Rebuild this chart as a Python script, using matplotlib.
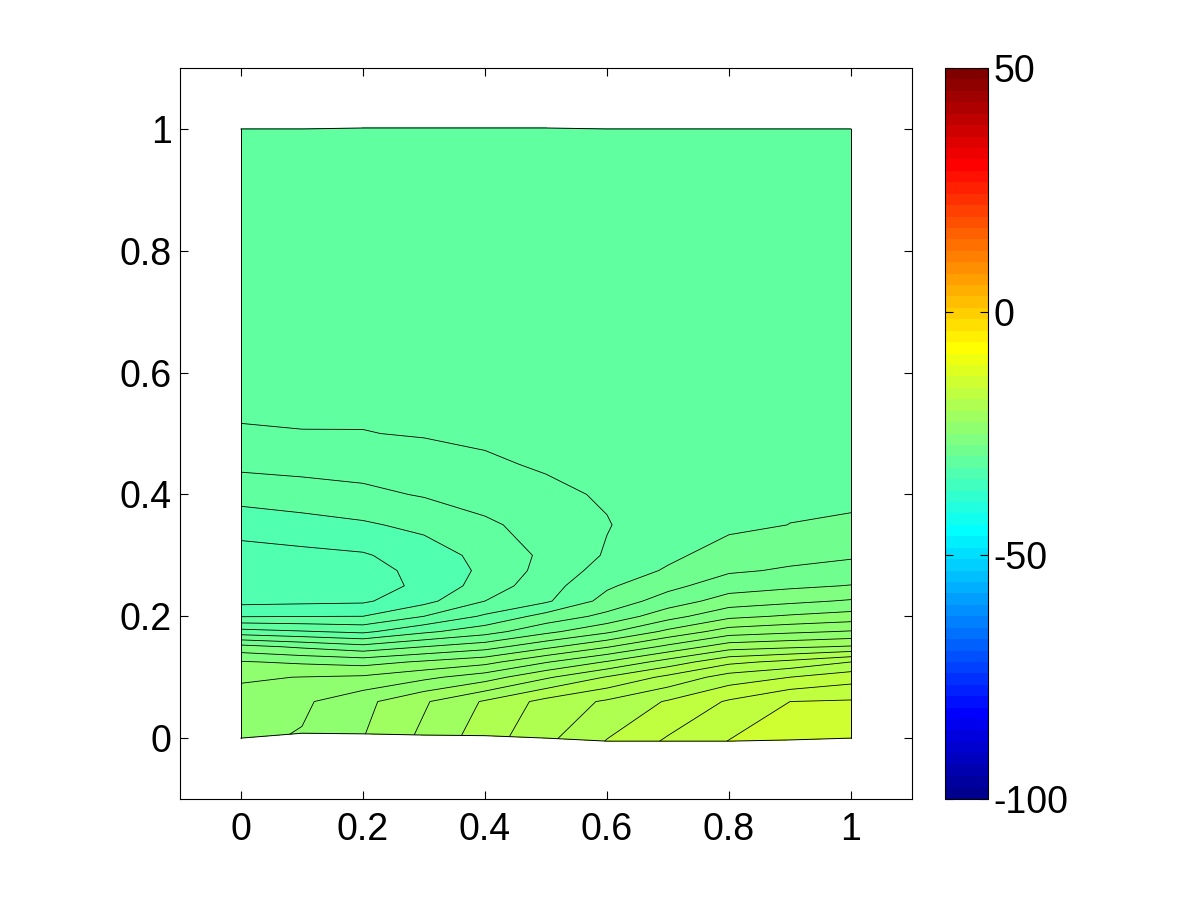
import matplotlib
matplotlib.use('Agg')
import matplotlib.pyplot as plt
import numpy as np
from matplotlib.colors import ListedColormap, Normalize
from matplotlib.cm import ScalarMappable

# mesh nodes (x columns, y rows) and the slightly deformed bottom/top edges
x_nodes = [0.0, 0.1, 0.2, 0.3, 0.4, 0.5, 0.6, 0.7, 0.8, 0.9, 1.0]
y_nodes = [0.0, 0.06, 0.1, 0.125, 0.15, 0.175, 0.2, 0.225, 0.25, 0.275,
           0.3, 0.35, 0.4, 0.45, 0.5, 0.6, 0.8, 1.0]
bottom_edge = [0.0, 0.008, 0.007, 0.005, 0.004, 0.0, -0.005, -0.005, -0.005, -0.003, 0.0]
top_edge = [1.0, 1.0, 1.0016, 1.0016, 1.0016, 1.0016, 1.0, 1.0, 1.0, 1.0, 1.0]

# field values, one row per y node (bottom -> top)
field = [
    [-23.2, -22.95, -22.05, -20.8, -19.5, -18.25, -16.95, -15.85, -14.97, -14.6, -14.4],
    [-23.7, -23.18, -22.28, -21.12, -19.88, -18.67, -17.85, -16.9, -15.88, -15.0, -14.9],
    [-24.1, -23.98, -23.85, -23.24, -22.47, -21.15, -19.93, -18.75, -17.56, -17.0, -16.43],
    [-24.93, -25.15, -25.38, -24.86, -24.33, -23.08, -21.92, -20.58, -19.25, -18.73, -18.0],
    [-26.67, -27.17, -27.67, -27.0, -26.42, -25.25, -24.09, -22.75, -21.45, -21.18, -20.9],
    [-29.63, -29.93, -30.23, -29.21, -28.43, -27.27, -26.2, -24.77, -23.54, -23.21, -22.93],
    [-32.07, -32.03, -32.0, -31.0, -29.85, -28.64, -27.72, -26.39, -25.24, -24.88, -24.59],
    [-33.3, -33.22, -33.15, -32.3, -31.0, -30.15, -28.65, -27.54, -26.55, -26.22, -25.9],
    [-33.5, -33.45, -33.42, -32.8, -31.55, -30.4, -29.15, -28.28, -27.45, -27.19, -26.96],
    [-33.6, -33.5, -33.38, -32.7, -31.8, -30.65, -29.6, -28.89, -28.13, -27.89, -27.62],
    [-33.35, -33.25, -33.1, -32.5, -31.7, -30.8, -29.9, -29.2, -28.58, -28.27, -28.13],
    [-32.63, -32.38, -32.13, -31.75, -31.15, -30.65, -30.05, -29.45, -29.2, -28.99, -28.92],
    [-31.6, -31.42, -31.23, -30.92, -30.63, -30.2, -29.9, -29.45, -29.25, -29.15, -29.12],
    [-30.78, -30.69, -30.6, -30.3, -30.12, -29.9, -29.75, -29.45, -29.28, -29.25, -29.18],
    [-30.05, -30.02, -30.02, -29.95, -29.85, -29.8, -29.65, -29.45, -29.3, -29.3, -29.25],
    [-29.75, -29.74, -29.72, -29.7, -29.68, -29.65, -29.55, -29.45, -29.35, -29.4, -29.35],
    [-29.55, -29.52, -29.5, -29.5, -29.5, -29.5, -29.5, -29.5, -29.45, -29.45, -29.45],
    [-29.4, -29.4, -29.4, -29.42, -29.45, -29.45, -29.5, -29.5, -29.5, -29.5, -29.5],
]
levels = np.arange(-35, -13, 1)
cmin, cmax = -100, 50
ticks = [0, 0.2, 0.4, 0.6, 0.8, 1]
tick_labels = ['0', '0.2', '0.4', '0.6', '0.8', '1']
cbar_ticks = [-100, -50, 0, 50]


# matlab style jet(64)
def matlab_jet(m=64):
    n = int(np.ceil(m / 4))
    u = np.concatenate([np.arange(1, n + 1) / n, np.ones(n - 1), np.arange(n, 0, -1) / n])
    g = int(np.ceil(n / 2)) - (1 if m % 4 == 1 else 0) + np.arange(1, len(u) + 1)
    r = g + n
    b = g - n
    J = np.zeros((m, 3))
    ok = r <= m
    J[r[ok] - 1, 0] = u[ok]
    ok = g <= m
    J[g[ok] - 1, 1] = u[ok]
    ok = b >= 1
    J[b[ok] - 1, 2] = u[ok]
    return ListedColormap(J)


cmap = matlab_jet(64)
norm = Normalize(vmin=cmin, vmax=cmax)
# matlab colours a filled band by its lower level, matplotlib by the middle
fill_norm = Normalize(vmin=cmin + 0.5, vmax=cmax + 0.5)

X, Y = np.meshgrid(x_nodes, y_nodes)
Y[0, :] = bottom_edge
Y[-1, :] = top_edge
Z = np.array(field)

plt.rcParams['font.family'] = ['Liberation Sans', 'DejaVu Sans']
plt.rcParams['axes.unicode_minus'] = False
fig = plt.figure(figsize=(12, 9), dpi=100)
ax = fig.add_axes([0.15, 0.1122, 0.61, 0.8122])

ax.contourf(X, Y, Z, levels=levels, cmap=cmap, norm=fill_norm)
ax.contour(X, Y, Z, levels=levels, colors='k', linewidths=0.6, linestyles='solid')
# domain outline
ax.plot(X[0, :], Y[0, :], color='k', lw=0.7)
ax.plot(X[-1, :], Y[-1, :], color='k', lw=0.7)
ax.plot(X[:, 0], Y[:, 0], color='k', lw=0.7)
ax.plot(X[:, -1], Y[:, -1], color='k', lw=0.7)

ax.set_xlim(-0.1, 1.1)
ax.set_ylim(-0.1, 1.1)
ax.set_xticks(ticks)
ax.set_yticks(ticks)
ax.set_xticklabels(tick_labels)
ax.set_yticklabels(tick_labels)
ax.tick_params(direction='in', top=True, right=True, length=6, width=0.8,
               labelsize=27)
ax.tick_params(axis='y', pad=6)
ax.tick_params(axis='x', pad=9)
for s in ax.spines.values():
    s.set_linewidth(0.8)

cax = fig.add_axes([0.7875, 0.1122, 0.0358, 0.8122])
sm = ScalarMappable(norm=norm, cmap=cmap)
cb = fig.colorbar(sm, cax=cax, ticks=cbar_ticks)
cb.outline.set_linewidth(0.8)
cax.tick_params(direction='in', left=True, right=True, length=6, width=0.8,
                labelsize=27, pad=4)

fig.savefig('out.png', dpi=100)
